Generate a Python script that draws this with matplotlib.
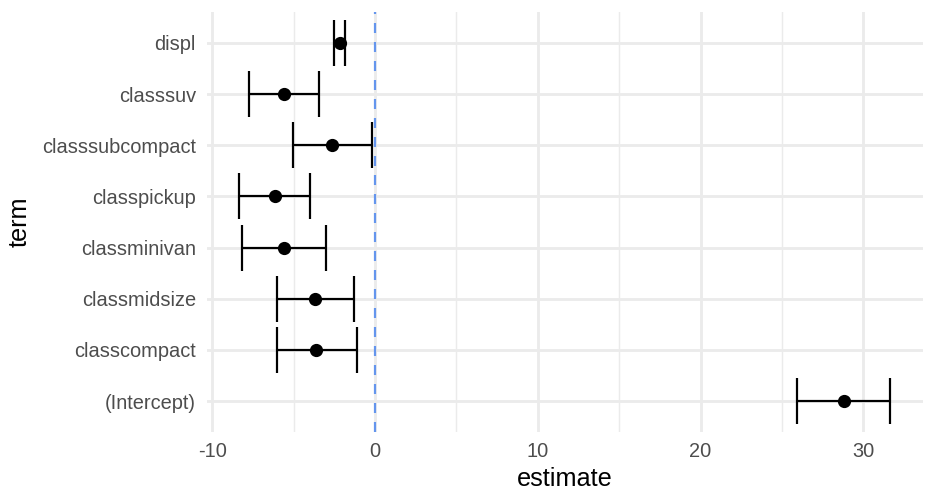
import matplotlib
matplotlib.use("Agg")
import matplotlib.pyplot as plt
import numpy as np

terms = ["(Intercept)", "classcompact", "classmidsize", "classminivan",
         "classpickup", "classsubcompact", "classsuv", "displ"]
estimate = [28.79, -3.60, -3.67, -5.57, -6.16, -2.62, -5.57, -2.15]
conf_low = [25.90, -6.02, -6.00, -8.15, -8.33, -5.04, -7.72, -2.52]
conf_high = [31.65, -1.13, -1.29, -3.01, -3.97, -0.16, -3.44, -1.81]

plt.rcParams['font.family'] = ['Liberation Sans', 'DejaVu Sans']
plt.rcParams['lines.scale_dashes'] = False

fig = plt.figure(figsize=(6.5, 3.5), dpi=144)
ax = fig.add_axes([206.8/936, 1-431.7/504, (922.8-206.8)/936, (431.7-12.3)/504])

y = np.arange(1, len(terms)+1)
grid_c = '#EBEBEB'
lo = min(conf_low); hi = max(conf_high)
rng = hi - lo
xmin, xmax = lo - 0.05*rng, hi + 0.05*rng
for v in [-5, 5, 15, 25]:
    ax.axvline(v, color=grid_c, lw=0.71, zorder=0)
for v in [-10, 0, 10, 20, 30]:
    ax.axvline(v, color=grid_c, lw=1.42, zorder=0)
for v in y:
    ax.axhline(v, color=grid_c, lw=1.42, zorder=0)

ax.axvline(0, color='#6495ED', lw=1.1, linestyle=(0, (5, 4.5)), zorder=2)

est = np.array(estimate)
ax.errorbar(est, y, xerr=[est-np.array(conf_low), np.array(conf_high)-est],
            fmt='none', ecolor='black', elinewidth=1.1, capsize=11.3, capthick=1.1, zorder=3)
ax.plot(est, y, 'o', color='black', markersize=5.6, zorder=4)

ax.set_xlim(xmin, xmax)
ax.set_ylim(0.4, len(terms)+0.6)
ax.set_xticks([-10, 0, 10, 20, 30])
ax.set_xticklabels(['-10', '0', '10', '20', '30'])
ax.set_yticks(y)
ax.set_yticklabels(terms)
ax.tick_params(axis='both', length=0, labelsize=10, labelcolor='#4D4D4D')
ax.tick_params(axis='x', pad=5)
ax.tick_params(axis='y', pad=5.5)
for s in ax.spines.values():
    s.set_visible(False)
ax.set_xlabel('estimate', fontsize=12.6, color='black', labelpad=3)
ax.set_ylabel('term', fontsize=12.6, color='black', labelpad=5)

fig.savefig('out.png', dpi=144)
